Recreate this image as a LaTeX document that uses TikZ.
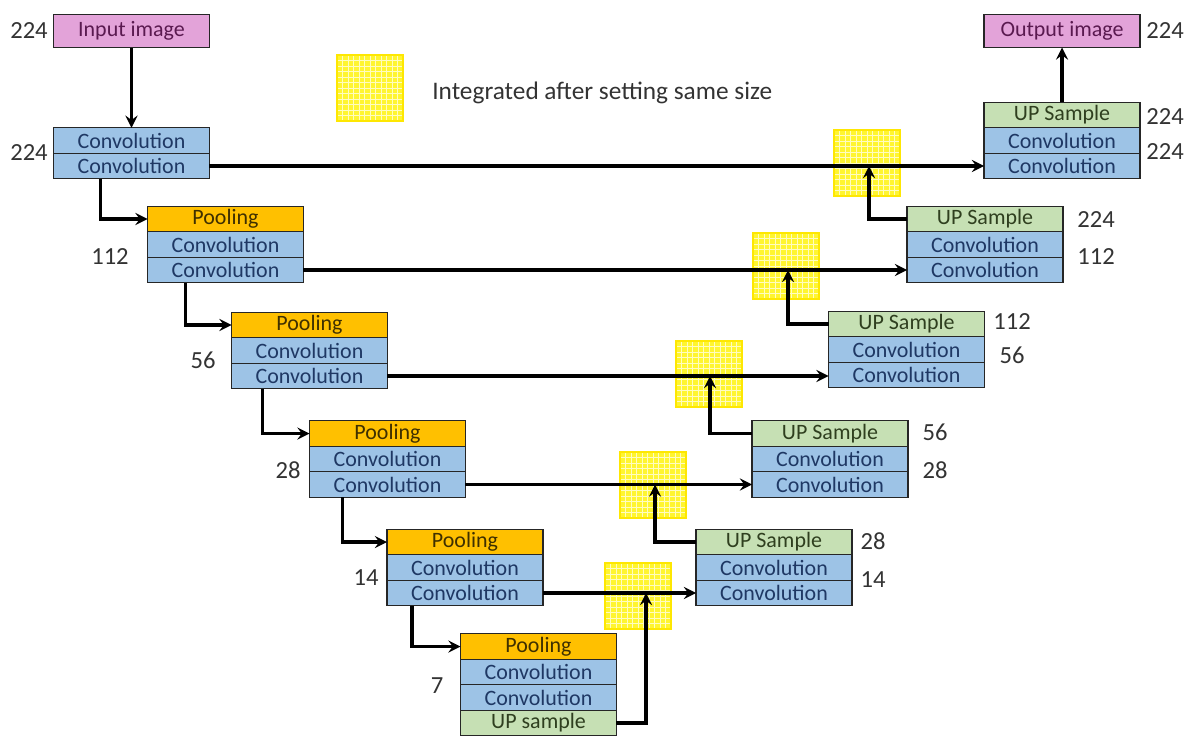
\documentclass[tikz,border=0pt]{standalone}
\usepackage{fontspec}
\setmainfont{Carlito}
\usetikzlibrary{positioning,calc}

\definecolor{imgpink}{HTML}{E3A3D9}
\definecolor{imgtext}{HTML}{5A1A50}
\definecolor{convblue}{HTML}{9DC3E6}
\definecolor{convtext}{HTML}{1F3864}
\definecolor{poolorange}{HTML}{FFC000}
\definecolor{pooltext}{HTML}{3F3000}
\definecolor{upgreen}{HTML}{C6E0B4}
\definecolor{uptext}{HTML}{2F3F1F}
\definecolor{gridyellow}{HTML}{FFF530}

\begin{document}
\begin{tikzpicture}[x=0.02cm,y=-0.02cm,
	box/.style={draw=black!85,line width=0.7pt,outer sep=0pt,minimum width=3.12cm,minimum height=0.51cm,inner sep=0pt,font=\fontsize{12.5}{14}\selectfont},
	convbox/.style={box,fill=convblue,text=convtext},
	poolbox/.style={box,fill=poolorange,text=pooltext},
	upbox/.style={box,fill=upgreen,text=uptext},
	imgbox/.style={box,fill=imgpink,text=imgtext,minimum height=0.66cm},
	num/.style={inner sep=0pt,font=\fontsize{14}{16}\selectfont,text=black!80},
	arr/.style={-stealth,line width=2pt}]
	\useasboundingbox (0,0) rectangle (1199,741);

	% merge grids
	\foreach \gx/\gy in {337/55, 834/130, 753/233, 676/341, 620/452, 605/563}{
		\fill[gridyellow] (\gx,\gy) rectangle ++(66,66);
		\foreach \k in {1,...,11}{
			\draw[yellow!25!white,line width=0.35pt] (\gx+\k*5.5,\gy) -- ++(0,66);
			\draw[yellow!25!white,line width=0.35pt] (\gx,\gy+\k*5.5) -- ++(66,0);
		}
		\draw[yellow!90!orange,line width=0.6pt] (\gx,\gy) rectangle ++(66,66);
	}
	\node[anchor=west,inner sep=0pt,font=\fontsize{14.4}{17}\selectfont,text=black!80] (legtxt) at (432,93) {Integrated after setting same size};

	% encoder
	\node[imgbox] (in) at (131.5,31) {Input image};
	\node[convbox] (c1a) at (131.5,140.5) {Convolution};
	\node[convbox,below=0pt of c1a] (c1b) {Convolution};

	\node[poolbox] (p2) at (225.5,219) {Pooling};
	\node[convbox,below=0pt of p2] (c2a) {Convolution};
	\node[convbox,below=0pt of c2a] (c2b) {Convolution};

	\node[poolbox] (p3) at (309.5,325) {Pooling};
	\node[convbox,below=0pt of p3] (c3a) {Convolution};
	\node[convbox,below=0pt of c3a] (c3b) {Convolution};

	\node[poolbox] (p4) at (387.5,433.5) {Pooling};
	\node[convbox,below=0pt of p4] (c4a) {Convolution};
	\node[convbox,below=0pt of c4a] (c4b) {Convolution};

	\node[poolbox] (p5) at (465,542) {Pooling};
	\node[convbox,below=0pt of p5] (c5a) {Convolution};
	\node[convbox,below=0pt of c5a] (c5b) {Convolution};

	\node[poolbox] (p6) at (538.5,646.5) {Pooling};
	\node[convbox,below=0pt of p6] (c6a) {Convolution};
	\node[convbox,below=0pt of c6a] (c6b) {Convolution};
	\node[upbox,below=0pt of c6b] (u6) {UP sample};

	% decoder
	\node[imgbox] (out) at (1062,31) {Output image};
	\node[upbox] (u1) at (1062,115) {UP Sample};
	\node[convbox,below=0pt of u1] (d1a) {Convolution};
	\node[convbox,below=0pt of d1a] (d1b) {Convolution};

	\node[upbox] (u2) at (985,219) {UP Sample};
	\node[convbox,below=0pt of u2] (d2a) {Convolution};
	\node[convbox,below=0pt of d2a] (d2b) {Convolution};

	\node[upbox] (u3) at (906.5,324) {UP Sample};
	\node[convbox,below=0pt of u3] (d3a) {Convolution};
	\node[convbox,below=0pt of d3a] (d3b) {Convolution};

	\node[upbox] (u4) at (830,433.5) {UP Sample};
	\node[convbox,below=0pt of u4] (d4a) {Convolution};
	\node[convbox,below=0pt of d4a] (d4b) {Convolution};

	\node[upbox] (u5) at (774,542) {UP Sample};
	\node[convbox,below=0pt of u5] (d5a) {Convolution};
	\node[convbox,below=0pt of d5a] (d5b) {Convolution};

	% sizes
	\node[num] (nin) at (29,31) {224};
	\node[num] (n1) at (29,153) {224};
	\node[num] (n2) at (110,257) {112};
	\node[num] (n3) at (203,360) {56};
	\node[num] (n4) at (288,470) {28};
	\node[num] (n5) at (366,578) {14};
	\node[num] (n6) at (437,686) {7};
	\node[num] (nout) at (1165,31) {224};
	\node[num] (m1a) at (1165,117) {224};
	\node[num] (m1b) at (1165,152) {224};
	\node[num] (m2a) at (1096,220) {224};
	\node[num] (m2b) at (1096,257) {112};
	\node[num] (m3a) at (1012,322) {112};
	\node[num] (m3b) at (1012,355) {56};
	\node[num] (m4a) at (935,432) {56};
	\node[num] (m4b) at (935,470) {28};
	\node[num] (m5a) at (873,541) {28};
	\node[num] (m5b) at (873,580) {14};

	% skip and down paths
	\draw[arr] (in) -- (c1a);
	\draw[arr] (c1b.east) -- (c1b.east -| d1b.west);
	\draw[arr] ($(c1b.south west)+(47,0)$) |- (p2);
	\draw[arr] (c2b.east) -- (c2b.east -| d2b.west);
	\draw[arr] ($(c2b.south west)+(38,0)$) |- (p3);
	\draw[arr] (c3b.east) -- (c3b.east -| d3b.west);
	\draw[arr] ($(c3b.south west)+(31,0)$) |- (p4);
	\draw[arr] (c4b.east) -- (c4b.east -| d4b.west);
	\draw[arr] ($(c4b.south west)+(33,0)$) |- (p5);
	\draw[arr] (c5b.east) -- (c5b.east -| d5b.west);
	\draw[arr] ($(c5b.south west)+(25,0)$) |- (p6);

	% up paths
	\coordinate (j5) at (646,0 |- c5b.east);
	\coordinate (j4) at (655,0 |- c4b.east);
	\coordinate (j3) at (710,0 |- c3b.east);
	\coordinate (j2) at (788,0 |- c2b.east);
	\coordinate (j1) at (869,0 |- c1b.east);
	\draw[arr] (u6) -| (j5);
	\draw[arr] (u5) -| (j4);
	\draw[arr] (u4) -| (j3);
	\draw[arr] (u3) -| (j2);
	\draw[arr] (u2) -| (j1);
	\draw[arr] (u1) -- (out);
\end{tikzpicture}
\end{document}
